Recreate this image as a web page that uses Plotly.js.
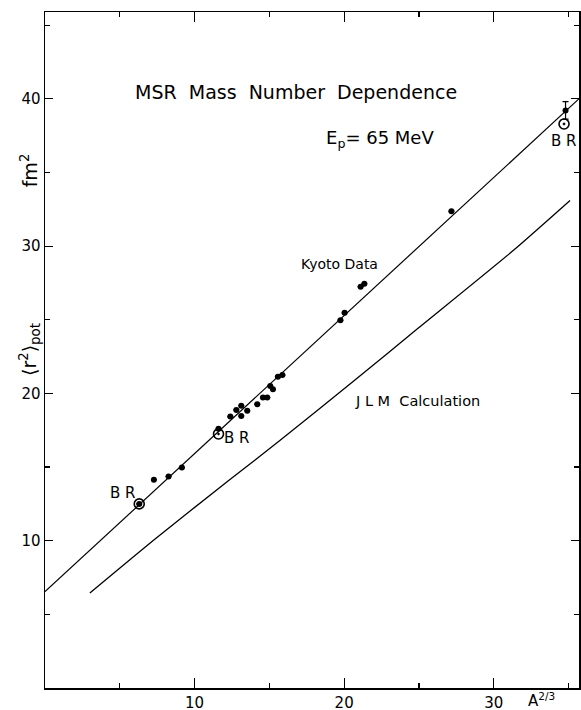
<!DOCTYPE html>
<html><head><meta charset="utf-8">
<script src="https://cdn.plot.ly/plotly-3.0.1.min.js"></script>
<style>html,body{margin:0;padding:0;background:#fff}#chart{width:581px;height:710px}</style>
</head><body><div id="chart"></div>
<script>
// Kyoto data (filled dots): A^(2/3) vs <r^2>_pot (fm^2)
const kyotoX = [6.3, 7.28, 8.26, 9.15, 11.6, 12.39, 12.79, 13.12, 13.12, 13.52, 14.19, 14.57, 14.86, 15.06, 15.24, 15.57, 15.87, 19.75, 20.03, 21.1, 21.35, 27.17, 34.8];
const kyotoY = [12.5, 14.14, 14.36, 14.97, 17.6, 18.43, 18.88, 19.17, 18.47, 18.83, 19.27, 19.72, 19.72, 20.5, 20.28, 21.14, 21.25, 24.97, 25.48, 27.25, 27.45, 32.37, 39.22];
const kyotoErr = [0, 0, 0, 0, 0, 0, 0, 0, 0, 0, 0, 0, 0, 0, 0, 0, 0, 0, 0, 0, 0, 0, 0.6];
// BR points (circled)
const brX = [6.3, 11.6, 34.7];
const brY = [12.5, 17.25, 38.3];
// Fitted straight line through data
const fitX = [0, 35.8];
const fitY = [6.54, 40.1];
// JLM calculation curve
const jlmX = [3.0, 7.4, 12.3, 15.7, 20.7, 25.0, 31.3, 35.1];
const jlmY = [6.45, 10.15, 14.1, 16.8, 20.9, 24.47, 29.7, 33.1];
// tick labels
const xTicks = [10, 20, 30];
const yTicks = [10, 20, 30, 40];
const xMinor = [5, 15, 25, 35];
const yMinor = [5, 15, 25, 35, 45];

const F = 'DejaVu Sans, sans-serif';
const traces = [
  {x: fitX, y: fitY, mode: 'lines', line: {color: '#000', width: 1.2}, hoverinfo: 'skip'},
  {x: jlmX, y: jlmY, mode: 'lines', line: {color: '#000', width: 1.3, shape: 'spline', smoothing: 0.6}, hoverinfo: 'skip'},
  {x: brX, y: brY, mode: 'markers', marker: {symbol: 'circle-open-dot', color: '#000', size: 10, line: {width: 1.6, color: '#000'}}},
  {x: kyotoX, y: kyotoY, mode: 'markers', marker: {color: '#000', size: 6},
   error_y: {type: 'data', array: kyotoErr, visible: true, color: '#000', thickness: 1.2, width: 3}}
];
const ann = (x, y, text, size, extra) => Object.assign({x: x, y: y, xref: 'x', yref: 'y', xanchor: 'center', yanchor: 'middle', text: text, showarrow: false, font: {family: F, size: size, color: '#000'}}, extra || {});
const layout = {
  width: 581, height: 710,
  margin: {l: 45, r: 2, t: 12, b: 22},
  paper_bgcolor: '#fff', plot_bgcolor: '#fff',
  showlegend: false,
  font: {family: F, size: 15, color: '#000'},
  xaxis: {range: [0, 35.7], tickmode: 'array', tickvals: xTicks, ticks: 'inside', ticklen: 10, tickwidth: 1.2, tickcolor: '#000',
    showline: true, linecolor: '#000', linewidth: 1.5, mirror: 'ticks', showgrid: false, zeroline: false,
    tickfont: {family: F, size: 15},
    minor: {tickmode: 'array', tickvals: xMinor, ticks: 'inside', ticklen: 5, tickwidth: 1.2, tickcolor: '#000', showgrid: false}},
  yaxis: {range: [0, 45.9], tickmode: 'array', tickvals: yTicks, ticks: 'inside', ticklen: 8, tickwidth: 1.2, tickcolor: '#000',
    showline: true, linecolor: '#000', linewidth: 1.5, mirror: 'ticks', showgrid: false, zeroline: false,
    tickfont: {family: F, size: 15},
    minor: {tickmode: 'array', tickvals: yMinor, ticks: 'inside', ticklen: 5, tickwidth: 1.2, tickcolor: '#000', showgrid: false}},
  annotations: [
    ann(16.76, 40.5, 'MSR  Mass  Number  Dependence', 19),
    ann(22.4, 37.3, 'E<sub>p</sub>= 65 MeV', 18),
    ann(19.7, 28.78, 'Kyoto Data', 14),
    ann(24.92, 19.49, 'J L M  Calculation', 14.5),
    ann(5.18, 13.25, 'B R', 15),
    ann(12.81, 17.0, 'B R', 15),
    ann(34.68, 37.12, 'B R', 15),
    {x: 33.2, y: 0, xref: 'x', yref: 'paper', xanchor: 'center', yanchor: 'top', yshift: 0, text: 'A<sup>2/3</sup>', showarrow: false, font: {family: F, size: 15, color: '#000'}},
    {x: 0, y: 35.15, xref: 'paper', yref: 'y', xanchor: 'center', yanchor: 'middle', xshift: -16, text: 'fm<sup>2</sup>', textangle: -90, showarrow: false, font: {family: F, size: 19, color: '#000'}},
    {x: 0, y: 22.95, xref: 'paper', yref: 'y', xanchor: 'center', yanchor: 'middle', xshift: -16, text: '⟨r<sup>2</sup>⟩<sub>pot</sub>', textangle: -90, showarrow: false, font: {family: F, size: 19, color: '#000'}}
  ]
};
Plotly.newPlot('chart', traces, layout, {displayModeBar: false, staticPlot: true});
</script></body></html>
